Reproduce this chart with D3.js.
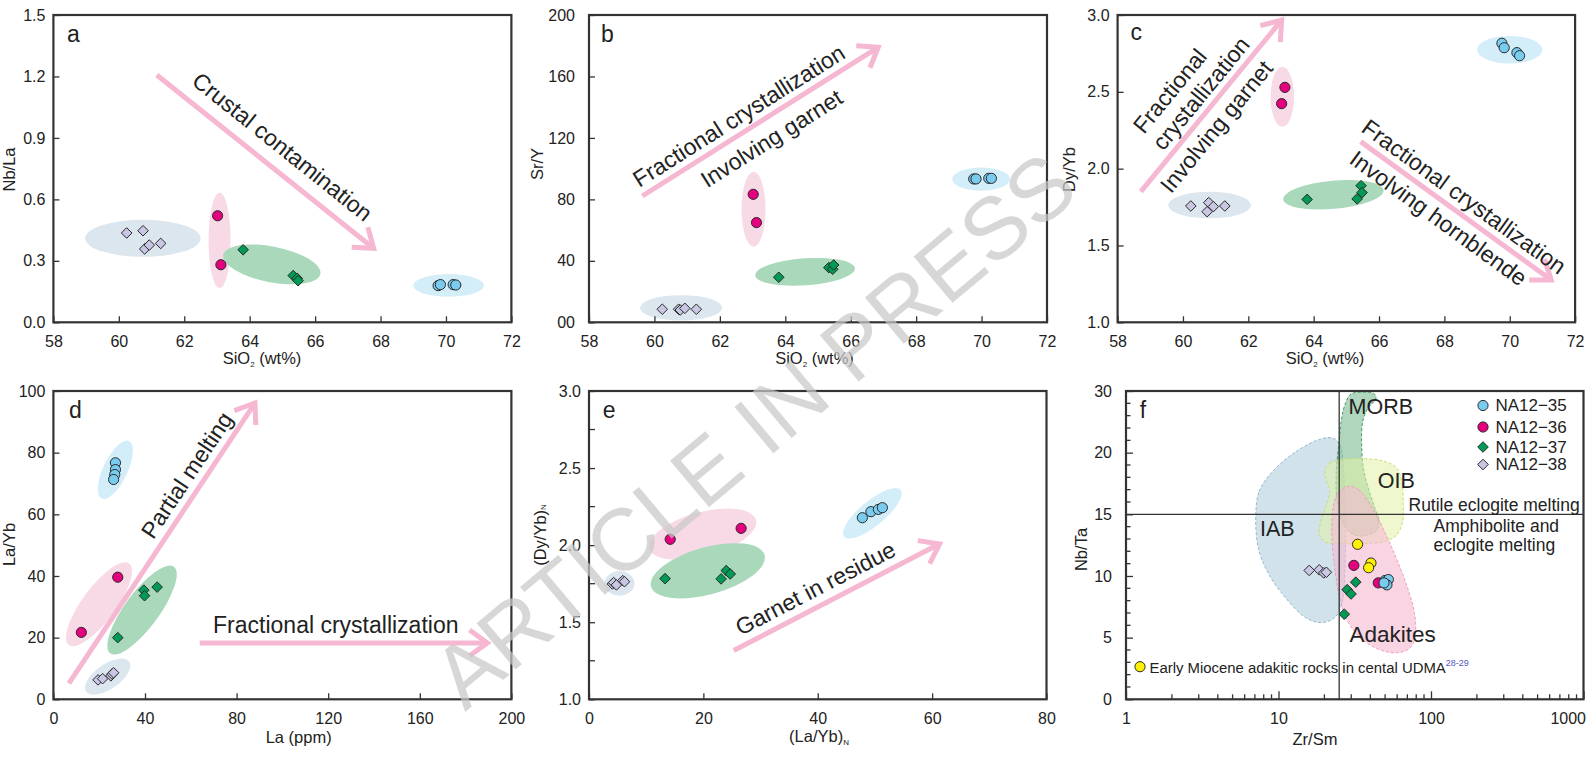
<!DOCTYPE html>
<html>
<head>
<meta charset="utf-8">
<script src="https://cdn.jsdelivr.net/npm/d3@7"></script>
<style>
html,body{margin:0;padding:0;background:#fff;}
svg{display:block;}
</style>
</head>
<body>
<script>
// ---------------- sample groups ----------------
const groupKeys = ["g35", "g36", "g37", "g38"];
const groupLabels = ["NA12\u221235", "NA12\u221236", "NA12\u221237", "NA12\u221238"];

// ---------------- SiO2 (wt%) per sample ----------------
const sio2_35 = [69.76, 69.83, 70.22, 70.30];
const sio2_36 = [63.02, 63.12];
const sio2_37 = [63.80, 65.33, 65.45, 65.48];
const sio2_38 = [60.24, 60.74, 60.79, 60.93, 61.28];

// (a) Nb/La
const nbLa_35 = [0.179, 0.184, 0.184, 0.182];
const nbLa_36 = [0.520, 0.281];
const nbLa_37 = [0.354, 0.228, 0.215, 0.203];
const nbLa_38 = [0.436, 0.447, 0.358, 0.377, 0.385];

// (b) Sr/Y
const srY_35 = [93.3, 93.3, 93.7, 93.7];
const srY_36 = [83.3, 64.9];
const srY_37 = [29.3, 35.6, 34.5, 37.3];
const srY_38 = [8.5, 8.5, 8.0, 9.1, 8.5];

// (c) Dy/Yb
const dyYb_35 = [2.816, 2.787, 2.755, 2.735];
const dyYb_36 = [2.423, 2.529];
const dyYb_37 = [1.800, 1.803, 1.889, 1.844];
const dyYb_38 = [1.757, 1.720, 1.779, 1.753, 1.757];

// (d) La (ppm) vs La/Yb
const la_35 = [27.1, 27.1, 26.8, 26.3];
const laYb_35 = [76.7, 74.5, 72.9, 71.3];
const la_36 = [12.2, 28.1];
const laYb_36 = [21.7, 39.6];
const la_37 = [28.1, 39.5, 39.8, 45.3];
const laYb_37 = [20.0, 35.4, 33.6, 36.4];
const la_38 = [19.5, 21.5, 25.1, 25.6, 26.3];
const laYb_38 = [6.3, 6.7, 7.6, 8.2, 8.6];

// (e) (La/Yb)N vs (Dy/Yb)N
const laYbN_35 = [47.8, 49.3, 50.6, 51.3];
const dyYbN_35 = [2.178, 2.217, 2.232, 2.243];
const laYbN_36 = [14.2, 26.6];
const dyYbN_36 = [2.038, 2.109];
const laYbN_37 = [13.3, 23.1, 24.0, 24.7];
const dyYbN_37 = [1.783, 1.781, 1.835, 1.813];
const laYbN_38 = [4.1, 4.3, 4.8, 5.9, 6.2];
const dyYbN_38 = [1.748, 1.757, 1.742, 1.770, 1.763];

// (f) Zr/Sm vs Nb/Ta
const zrSm_35 = [49.9, 52.5, 51.4, 49.2];
const nbTa_35 = [9.63, 9.71, 9.28, 9.44];
const zrSm_36 = [31.2, 45.1];
const nbTa_36 = [10.86, 9.44];
const zrSm_37 = [32.1, 28.2, 29.9, 27.0];
const nbTa_37 = [9.50, 8.89, 8.54, 6.90];
const zrSm_38 = [15.9, 18.5, 19.8, 20.6];
const nbTa_38 = [10.45, 10.50, 10.25, 10.30];
const zrSm_udma = [33.0, 40.4, 39.0];
const nbTa_udma = [12.57, 11.05, 10.67];

// reference fields of panel f, [Zr/Sm, Nb/Ta] outlines
const iabField = [[7.1,14.95],[7.47,16.86],[9.19,18.5],[13.2,20.27],[19.0,22.23],[22.8,22.34],[25.3,21.3],[26.6,18.77],[27.3,15.5],[27.3,10.59],[26.2,7.86],[23.4,6.63],[19.0,6.22],[15.0,6.63],[11.3,8.13],[8.73,10.04],[7.39,12.22]];
const morbField = [[31.7,29.73],[41.8,29.64],[43.6,28.86],[38.2,27.03],[35.6,24.95],[35.1,21.3],[36.0,18.77],[38.8,17.13],[42.9,15.49],[45.8,14.41],[44.0,13.72],[37.8,13.31],[31.7,13.31],[27.7,13.86],[25.3,14.95],[24.0,16.59],[24.0,18.77],[25.0,21.83],[25.9,25.47],[27.3,27.81],[29.4,29.38]];
const oibField = [[20.2,18.5],[21.7,19.18],[26.6,19.45],[36.0,19.51],[48.7,19.32],[59.6,18.77],[64.2,17.68],[65.8,15.77],[65.2,14.41],[59.6,13.31],[48.7,12.77],[36.0,12.63],[25.3,12.63],[20.2,12.77],[18.5,13.45],[19.2,14.68],[20.7,15.77],[21.7,16.86],[20.7,17.68]];
const adakiteField = [[28.7,17.27],[33.6,17.0],[41.3,15.5],[50.9,13.31],[59.4,11.4],[69.4,9.22],[77.8,7.04],[79.0,5.4],[73.1,4.18],[59.4,3.77],[45.8,4.04],[35.4,4.86],[28.7,6.22],[25.3,8.13],[23.4,10.59],[22.4,13.31],[22.8,15.5],[24.6,16.73]];
const zrSmDivide = 25;
const nbTaDivide = 15;

// ---------------- axis ticks ----------------
const sio2Ticks = [58, 60, 62, 64, 66, 68, 70, 72];
const nbLaTicks = [0, 0.3, 0.6, 0.9, 1.2, 1.5];
const srYTicks = [0, 40, 80, 120, 160, 200];
const srYTickLabels = ["00", "40", "80", "120", "160", "200"];
const dyYbTicks = [1.0, 1.5, 2.0, 2.5, 3.0];
const laTicks = [0, 40, 80, 120, 160, 200];
const laYbTicks = [0, 20, 40, 60, 80, 100];
const laYbNTicks = [0, 20, 40, 60, 80];
const dyYbNTicks = [1.0, 1.5, 2.0, 2.5, 3.0];
const dyYbNMinorTicks = [1.25, 1.75, 2.25, 2.75];
const zrSmTicks = [1, 10, 100, 1000];
const nbTaTicks = [0, 5, 10, 15, 20, 30];

// ---------------- grouping ellipses [x1, y1, x2, y2, minor/major] ----------------
const ellA = {g38:[58.97,0.41,62.5,0.41,0.32], g36:[63.08,0.633,63.08,0.166,0.23], g35:[69.0,0.18,71.16,0.18,0.32], g37:[63.19,0.329,66.16,0.236,0.36]};
const ellB = {g38:[59.56,9.4,62.07,9.4,0.31], g36:[63.03,98,63.03,49.2,0.32], g35:[69.1,93.2,70.87,93.2,0.40], g37:[63.08,30.6,66.13,35.1,0.27]};
const ellC = {g38:[59.55,1.763,62.08,1.763,0.32], g36:[63.04,2.664,63.04,2.273,0.39], g35:[69.0,2.774,71.0,2.774,0.42], g37:[63.07,1.80,66.14,1.86,0.28]};
const ellD = {g38:[14.3,2.5,33.1,12.2,0.47], g36:[6.77,17.6,33.08,44.06,0.33], g35:[21.05,65.1,33.08,83.8,0.38], g37:[24.8,14.9,52.6,43.0,0.32]};
const ellE = {g38:[2.71,1.752,7.95,1.752,0.82], g36:[10.54,1.979,29.2,2.163,0.40], g35:[44.6,2.055,54.5,2.358,0.34], g37:[10.84,1.731,30.7,1.936,0.40]};

// ---------------- trend arrows [x1, y1, x2, y2] ----------------
const arrowA = [61.16, 1.207, 67.79, 0.361];
const arrowB = [59.63, 82.2, 66.84, 179];
const arrowC1 = [58.71, 1.85, 63.02, 2.967];
const arrowC2 = [65.44, 2.176, 71.27, 1.275];
const arrowD1 = [6.77, 5.18, 88.0, 96.1];
const arrowD2 = [63.9, 18.3, 189.5, 18.3];
const arrowE = [25.3, 1.316, 61.3, 2.008];

// ---------------- styling ----------------
const FONT = '"Liberation Sans", Arial, Helvetica, sans-serif';
const INK = "#222";
const FRAME = "#333";
const markerFill = {g35:"#7accef", g36:"#e4007f", g37:"#009a55", g38:"#c9c6e4", udma:"#fff200"};
const markerShape = {g35:"circle", g36:"circle", g37:"diamond", g38:"diamond", udma:"circle"};
const ellFill = {g35:"#d4eef9", g36:"#f8d9e6", g37:"#a9d8bb", g38:"#dbe6ee"};
const ARROW = "#f5b7d1";

const svg = d3.select("body").append("svg")
  .attr("width", 1588).attr("height", 759)
  .style("font-family", FONT);

const frames = {
  a:{x:53.4, y:15, w:458, h:307.3},
  b:{x:589, y:15, w:458, h:307.3},
  c:{x:1117.6, y:15, w:457.5, h:307.3},
  d:{x:53.4, y:391, w:458, h:308.3},
  e:{x:589, y:391, w:457.5, h:308.3},
  f:{x:1126, y:391, w:457.5, h:308.3}
};

function makePanel(key) {
  const fr = frames[key];
  const g = svg.append("g").attr("transform", `translate(${fr.x},${fr.y})`);
  const cid = "clip-" + key;
  g.append("clipPath").attr("id", cid).append("rect")
    .attr("width", fr.w).attr("height", fr.h);
  const plot = g.append("g").attr("clip-path", `url(#${cid})`);
  return {g, plot, fr};
}

function styleAxis(sel, fs) {
  sel.select(".domain").remove();
  sel.selectAll(".tick line").attr("stroke", FRAME).attr("stroke-width", 1.3);
  sel.selectAll(".tick text").attr("fill", INK).attr("font-size", fs || 16)
     .attr("font-family", FONT);
}

function drawAxes(P, x, y, xt, yt, xfmt, yfmt, ypad, xExtraTicks, yExtraTicks) {
  const {g, fr} = P;
  const ax = g.append("g").attr("transform", `translate(0,${fr.h})`)
    .call(d3.axisBottom(x).tickValues(xt).tickFormat(xfmt)
      .tickSizeInner(-6).tickSizeOuter(0).tickPadding(13));
  styleAxis(ax);
  const ay = g.append("g")
    .call(d3.axisLeft(y).tickValues(yt).tickFormat(yfmt)
      .tickSizeInner(-6).tickSizeOuter(0).tickPadding(ypad));
  styleAxis(ay);
  if (yExtraTicks) {
    g.append("g").selectAll("line").data(yExtraTicks).join("line")
      .attr("x1", 0).attr("x2", 6).attr("y1", d => y(d)).attr("y2", d => y(d))
      .attr("stroke", FRAME).attr("stroke-width", 1.3);
  }
}

function drawFrame(P) {
  P.g.append("rect").attr("width", P.fr.w).attr("height", P.fr.h)
    .attr("fill", "none").attr("stroke", FRAME).attr("stroke-width", 2.2);
}

function panelLetter(P, letter, dx, dy) {
  P.g.append("text").attr("x", dx).attr("y", dy).attr("font-size", 23)
    .attr("fill", INK).text(letter);
}

function xTitle(P, cx, by, parts) {
  const t = P.g.append("text").attr("x", cx - P.fr.x).attr("y", by - P.fr.y)
    .attr("text-anchor", "middle").attr("font-size", 16.5).attr("fill", INK);
  parts.forEach(([s, sub]) => {
    if (sub) {
      t.append("tspan").attr("font-size", 8).attr("dy", 3).text(s);
    } else {
      t.append("tspan").attr("dy", t.selectAll("tspan").size() ? -3 : 0).text(s);
    }
  });
}

function yTitle(P, cx, cy, parts) {
  const t = P.g.append("text")
    .attr("transform", `translate(${cx - P.fr.x},${cy - P.fr.y}) rotate(-90)`)
    .attr("text-anchor", "middle").attr("dominant-baseline", "central")
    .attr("font-size", 16.5).attr("fill", INK);
  parts.forEach(([s, sub]) => {
    if (sub) t.append("tspan").attr("font-size", 8).attr("dy", 3).text(s);
    else t.append("tspan").attr("dy", t.selectAll("tspan").size() ? -3 : 0).text(s);
  });
}

function drawEllipses(P, x, y, ells) {
  ["g38", "g36", "g35", "g37"].forEach(k => {
    const e = ells[k];
    if (!e) return;
    const p1 = [x(e[0]), y(e[1])], p2 = [x(e[2]), y(e[3])];
    const cx = (p1[0] + p2[0]) / 2, cy = (p1[1] + p2[1]) / 2;
    const rx = Math.hypot(p2[0] - p1[0], p2[1] - p1[1]) / 2;
    const ang = Math.atan2(p2[1] - p1[1], p2[0] - p1[0]) * 180 / Math.PI;
    P.plot.append("ellipse").attr("rx", rx).attr("ry", rx * e[4])
      .attr("transform", `translate(${cx},${cy}) rotate(${ang})`)
      .attr("fill", ellFill[k]);
  });
}

function markerPath(shape) {
  if (shape === "diamond") return "M0,-5.3L5.3,0L0,5.3L-5.3,0Z";
  return d3.symbol().type(d3.symbolCircle).size(Math.PI * 5.1 * 5.1)();
}

function drawPoints(P, x, y, key, xs, ys) {
  const pts = xs.map((v, i) => [v, ys[i]]);
  P.plot.append("g").selectAll("path").data(pts).join("path")
    .attr("d", markerPath(markerShape[key]))
    .attr("transform", d => `translate(${x(d[0])},${y(d[1])})`)
    .attr("fill", markerFill[key]).attr("stroke", "#2a2a2a").attr("stroke-width", 1);
}

function arrowAngle(x, y, a) {
  return Math.atan2(y(a[3]) - y(a[1]), x(a[2]) - x(a[0])) * 180 / Math.PI;
}

function drawArrow(P, x, y, a) {
  const p1 = [x(a[0]), y(a[1])], p2 = [x(a[2]), y(a[3])];
  const th = Math.atan2(p2[1] - p1[1], p2[0] - p1[0]);
  const L = 22, spread = 36 * Math.PI / 180;
  const w1 = [p2[0] - L * Math.cos(th - spread), p2[1] - L * Math.sin(th - spread)];
  const w2 = [p2[0] - L * Math.cos(th + spread), p2[1] - L * Math.sin(th + spread)];
  const tipBack = [p2[0] - 3 * Math.cos(th), p2[1] - 3 * Math.sin(th)];
  P.g.append("line").attr("x1", p1[0]).attr("y1", p1[1]).attr("x2", tipBack[0]).attr("y2", tipBack[1])
    .attr("stroke", ARROW).attr("stroke-width", 5);
  P.g.append("path").attr("d", `M${w1[0]},${w1[1]}L${p2[0]},${p2[1]}L${w2[0]},${w2[1]}`)
    .attr("fill", "none").attr("stroke", ARROW).attr("stroke-width", 5)
    .attr("stroke-linejoin", "miter").attr("stroke-miterlimit", 10);
}

function annot(P, x, y, text, dx, dy, angle, fs) {
  P.g.append("text")
    .attr("transform", `translate(${x(dx)},${y(dy)}) rotate(${angle})`)
    .attr("text-anchor", "middle").attr("dominant-baseline", "central")
    .attr("font-size", fs || 23).attr("fill", INK).text(text);
}

const fmt1 = d3.format(".1f");
const fmt0 = d3.format("d");

// ================= panel a =================
{
  const P = makePanel("a");
  const x = d3.scaleLinear().domain([58, 72]).range([0, P.fr.w]);
  const y = d3.scaleLinear().domain([0, 1.5]).range([P.fr.h, 0]);
  drawEllipses(P, x, y, ellA);
  drawArrow(P, x, y, arrowA);
  annot(P, x, y, "Crustal contamination", 65.0, 0.857, arrowAngle(x, y, arrowA));
  drawPoints(P, x, y, "g38", sio2_38, nbLa_38);
  drawPoints(P, x, y, "g36", sio2_36, nbLa_36);
  drawPoints(P, x, y, "g37", sio2_37, nbLa_37);
  drawPoints(P, x, y, "g35", sio2_35, nbLa_35);
  drawAxes(P, x, y, sio2Ticks, nbLaTicks, fmt0, fmt1, 8);
  drawFrame(P);
  panelLetter(P, "a", 13.7, 27);
  xTitle(P, 262, 367, [["SiO"], ["2", true], [" (wt%)"]]);
  yTitle(P, 11.5, 169.5, [["Nb/La"]]);
}

// ================= panel b =================
{
  const P = makePanel("b");
  const x = d3.scaleLinear().domain([58, 72]).range([0, P.fr.w]);
  const y = d3.scaleLinear().domain([0, 200]).range([P.fr.h, 0]);
  drawEllipses(P, x, y, ellB);
  drawArrow(P, x, y, arrowB);
  const ang = arrowAngle(x, y, arrowB);
  annot(P, x, y, "Fractional crystallization", 62.58, 134.4, ang);
  annot(P, x, y, "Involving garnet", 63.58, 119.7, ang);
  drawPoints(P, x, y, "g38", sio2_38, srY_38);
  drawPoints(P, x, y, "g36", sio2_36, srY_36);
  drawPoints(P, x, y, "g37", sio2_37, srY_37);
  drawPoints(P, x, y, "g35", sio2_35, srY_35);
  drawAxes(P, x, y, sio2Ticks, srYTicks, fmt0, (d, i) => srYTickLabels[i], 14);
  drawFrame(P);
  panelLetter(P, "b", 12, 27);
  xTitle(P, 814.5, 367, [["SiO"], ["2", true], [" (wt%)"]]);
  yTitle(P, 540, 164, [["Sr/Y"]]);
}

// ================= panel c =================
{
  const P = makePanel("c");
  const x = d3.scaleLinear().domain([58, 72]).range([0, P.fr.w]);
  const y = d3.scaleLinear().domain([1, 3]).range([P.fr.h, 0]);
  drawEllipses(P, x, y, ellC);
  drawArrow(P, x, y, arrowC1);
  drawArrow(P, x, y, arrowC2);
  const a1 = arrowAngle(x, y, arrowC1), a2 = arrowAngle(x, y, arrowC2);
  annot(P, x, y, "Fractional", 59.6, 2.506, a1);
  annot(P, x, y, "crystallization", 60.55, 2.49, a1);
  annot(P, x, y, "Involving garnet", 61.02, 2.274, a1);
  annot(P, x, y, "Fractional crystallization", 68.6, 1.817, a2);
  annot(P, x, y, "Involving hornblende", 67.82, 1.677, a2);
  drawPoints(P, x, y, "g38", sio2_38, dyYb_38);
  drawPoints(P, x, y, "g36", sio2_36, dyYb_36);
  drawPoints(P, x, y, "g37", sio2_37, dyYb_37);
  drawPoints(P, x, y, "g35", sio2_35, dyYb_35);
  drawAxes(P, x, y, sio2Ticks, dyYbTicks, fmt0, fmt1, 8);
  drawFrame(P);
  panelLetter(P, "c", 13, 25);
  xTitle(P, 1325, 367, [["SiO"], ["2", true], [" (wt%)"]]);
  yTitle(P, 1071.5, 169.5, [["Dy/Yb"]]);
}

// ================= panel d =================
{
  const P = makePanel("d");
  const x = d3.scaleLinear().domain([0, 200]).range([0, P.fr.w]);
  const y = d3.scaleLinear().domain([0, 100]).range([P.fr.h, 0]);
  drawEllipses(P, x, y, ellD);
  drawArrow(P, x, y, arrowD1);
  drawArrow(P, x, y, arrowD2);
  annot(P, x, y, "Partial melting", 58.3, 72.7, arrowAngle(x, y, arrowD1));
  annot(P, x, y, "Fractional crystallization", 123.3, 24.1, 0);
  drawPoints(P, x, y, "g38", la_38, laYb_38);
  drawPoints(P, x, y, "g36", la_36, laYb_36);
  drawPoints(P, x, y, "g37", la_37, laYb_37);
  drawPoints(P, x, y, "g35", la_35, laYb_35);
  drawAxes(P, x, y, laTicks, laYbTicks, fmt0, fmt0, 8);
  drawFrame(P);
  panelLetter(P, "d", 15.5, 27);
  xTitle(P, 298.7, 746, [["La (ppm)"]]);
  yTitle(P, 11.5, 544.5, [["La/Yb"]]);
}

// ================= panel e =================
{
  const P = makePanel("e");
  const x = d3.scaleLinear().domain([0, 80]).range([0, P.fr.w]);
  const y = d3.scaleLinear().domain([1, 3]).range([P.fr.h, 0]);
  drawEllipses(P, x, y, ellE);
  drawArrow(P, x, y, arrowE);
  annot(P, x, y, "Garnet in residue", 39.6, 1.72, arrowAngle(x, y, arrowE));
  drawPoints(P, x, y, "g38", laYbN_38, dyYbN_38);
  drawPoints(P, x, y, "g36", laYbN_36, dyYbN_36);
  drawPoints(P, x, y, "g37", laYbN_37, dyYbN_37);
  drawPoints(P, x, y, "g35", laYbN_35, dyYbN_35);
  drawAxes(P, x, y, laYbNTicks, dyYbNTicks, fmt0, fmt1, 8, null, dyYbNMinorTicks);
  drawFrame(P);
  panelLetter(P, "e", 13.7, 27);
  xTitle(P, 819, 745, [["(La/Yb)"], ["N", true]]);
  yTitle(P, 543, 535, [["(Dy/Yb)"], ["N", true]]);
}

// ================= panel f =================
{
  const P = makePanel("f");
  const x = d3.scaleLog().domain([1, 1000]).range([0, P.fr.w]);
  // Nb/Ta axis: the upper tick step (20 to 30) is drawn compressed
  const y = d3.scaleLinear().domain([0, 20, 30]).range([P.fr.h, P.fr.h * 0.2, 0]);
  const line = d3.line().x(d => x(d[0])).y(d => y(d[1])).curve(d3.curveCatmullRomClosed.alpha(0.5));
  const fields = [
    [iabField, "#c4dae6", 0.78, "#8fb8cf"],
    [morbField, "#7fbf94", 0.62, "#3f9a66"],
    [oibField, "#e2f0a6", 0.55, "#c7de76"],
    [adakiteField, "#f5b9d2", 0.6, "#ee9cc0"]
  ];
  fields.forEach(([pts, fill, op, stroke]) => {
    P.plot.append("path").attr("d", line(pts))
      .attr("fill", fill).attr("fill-opacity", op)
      .attr("stroke", stroke).attr("stroke-width", 1).attr("stroke-dasharray", "3,2");
  });
  // dividing lines
  P.g.append("line").attr("x1", x(zrSmDivide)).attr("x2", x(zrSmDivide))
    .attr("y1", 0).attr("y2", P.fr.h).attr("stroke", FRAME).attr("stroke-width", 1.3);
  P.g.append("line").attr("x1", 0).attr("x2", P.fr.w)
    .attr("y1", y(nbTaDivide)).attr("y2", y(nbTaDivide)).attr("stroke", FRAME).attr("stroke-width", 1.3);

  drawPoints(P, x, y, "g38", zrSm_38, nbTa_38);
  drawPoints(P, x, y, "udma", zrSm_udma, nbTa_udma);
  drawPoints(P, x, y, "g36", zrSm_36, nbTa_36);
  drawPoints(P, x, y, "g37", zrSm_37, nbTa_37);
  drawPoints(P, x, y, "g35", zrSm_35, nbTa_35);

  // axes
  const ax = P.g.append("g").attr("transform", `translate(0,${P.fr.h})`)
    .call(d3.axisBottom(x).tickValues(zrSmTicks).tickFormat(fmt0)
      .tickSizeInner(-8).tickSizeOuter(0).tickPadding(13));
  styleAxis(ax);
  // the last label is pulled inside the page edge
  ax.selectAll(".tick text").filter(d => d === 1000).attr("text-anchor", "end").attr("x", 2);
  const minorX = [];
  [1, 10, 100].forEach(dec => { for (let m = 2; m <= 9; m++) minorX.push(dec * m); });
  P.g.append("g").selectAll("line").data(minorX).join("line")
    .attr("x1", d => x(d)).attr("x2", d => x(d)).attr("y1", P.fr.h).attr("y2", P.fr.h - 5)
    .attr("stroke", FRAME).attr("stroke-width", 1.3);
  const ay = P.g.append("g")
    .call(d3.axisLeft(y).tickValues(nbTaTicks).tickFormat(fmt0)
      .tickSizeInner(-7).tickSizeOuter(0).tickPadding(14));
  styleAxis(ay);
  const minorY = d3.range(1, 20).filter(v => v % 5 !== 0).concat([22, 24, 26, 28]);
  P.g.append("g").selectAll("line").data(minorY).join("line")
    .attr("x1", 0).attr("x2", 4.5).attr("y1", d => y(d)).attr("y2", d => y(d))
    .attr("stroke", FRAME).attr("stroke-width", 1.3);

  drawFrame(P);
  panelLetter(P, "f", 13.7, 27);
  xTitle(P, 1315, 747.5, [["Zr/Sm"]]);
  yTitle(P, 1083.5, 549.5, [["Nb/Ta"]]);

  // field names
  const lab = (t, gx, gy, fs) => P.g.append("text").attr("x", gx - P.fr.x).attr("y", gy - P.fr.y)
    .attr("font-size", fs).attr("fill", INK).text(t);
  lab("MORB", 1348.5, 414.3, 21.5);
  lab("OIB", 1377.7, 488.3, 21.5);
  lab("IAB", 1260, 536, 21.5);
  lab("Adakites", 1349.5, 641.7, 22.5);
  lab("Rutile eclogite melting", 1408.5, 510.7, 17.5);
  lab("Amphibolite and", 1433.6, 532.3, 17.5);
  lab("eclogite melting", 1433.6, 550.7, 17.5);

  // legend
  const legRows = [405.5, 427, 447, 464.5];
  groupKeys.forEach((k, i) => {
    P.g.append("path").attr("d", markerPath(markerShape[k]))
      .attr("transform", `translate(${1483 - P.fr.x},${legRows[i] - P.fr.y})`)
      .attr("fill", markerFill[k]).attr("stroke", "#2a2a2a").attr("stroke-width", 1);
    P.g.append("text").attr("x", 1495.4 - P.fr.x).attr("y", legRows[i] - P.fr.y)
      .attr("dominant-baseline", "central").attr("font-size", 17).attr("fill", INK)
      .text(groupLabels[i]);
  });
  P.g.append("path").attr("d", markerPath("circle"))
    .attr("transform", `translate(${1140 - P.fr.x},${666.7 - P.fr.y})`)
    .attr("fill", markerFill.udma).attr("stroke", "#2a2a2a").attr("stroke-width", 1);
  const ut = P.g.append("text").attr("x", 1149.5 - P.fr.x).attr("y", 672.5 - P.fr.y)
    .attr("font-size", 14.9).attr("fill", INK);
  ut.append("tspan").text("Early Miocene adakitic rocks in cental UDMA");
  ut.append("tspan").attr("dy", -7).attr("font-size", 9).attr("fill", "#5555c4").text("28-29");
}

// ================= watermark =================
svg.append("text")
  .attr("transform", "translate(465,712) rotate(-40)")
  .attr("font-size", 88).attr("fill", "#c8c8c8").attr("fill-opacity", 0.72)
  .text("ARTICLE IN PRESS");
</script>
</body>
</html>
